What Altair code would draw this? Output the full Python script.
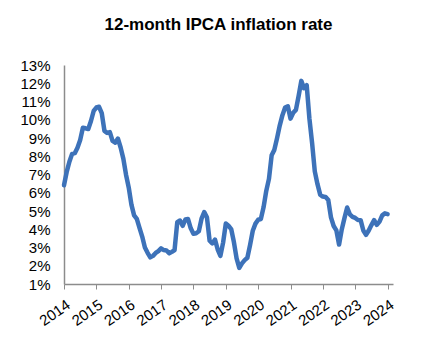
import altair as alt
import pandas as pd

# 12-month IPCA inflation rate (%), monthly, first point at the "2014" tick
values = [
    6.41,
    7.14, 7.70, 8.13, 8.17, 8.47, 8.89, 9.56, 9.53, 9.49, 9.93, 10.48, 10.67,
    10.71, 10.36, 9.39, 9.28, 9.32, 8.84, 8.74, 8.97, 8.48, 7.87, 6.99, 6.29,
    5.35, 4.76, 4.57, 4.08, 3.60, 3.00, 2.71, 2.46, 2.54, 2.70, 2.80, 2.95,
    2.86, 2.84, 2.68, 2.76, 2.86, 4.39, 4.48, 4.19, 4.53, 4.56, 4.05, 3.75,
    3.78, 3.89, 4.58, 4.94, 4.66, 3.37, 3.22, 3.43, 2.89, 2.54, 3.27, 4.31,
    4.19, 4.01, 3.30, 2.40, 1.88, 2.13, 2.31, 2.44, 3.14, 3.92, 4.31, 4.52,
    4.56, 5.20, 6.10, 6.76, 8.06, 8.35, 8.99, 9.68, 10.25, 10.67, 10.74, 10.06,
    10.38, 10.54, 11.30, 12.13, 11.73, 11.89, 10.07, 8.73, 7.17, 6.47, 5.90, 5.79,
    5.77, 5.60, 4.65, 4.18, 3.94, 3.16, 3.99, 4.61, 5.19, 4.82, 4.68, 4.62,
    4.51, 4.50, 3.93, 3.69, 3.93, 4.23, 4.50, 4.24, 4.42, 4.76, 4.87, 4.83,
]
year_labels = [2014, 2015, 2016, 2017, 2018, 2019, 2020, 2021, 2022, 2023, 2024]
y_ticks = list(range(1, 14))

df = pd.DataFrame({"t": list(range(len(values))), "v": values})

FONT = "Liberation Sans"

chart = (
    alt.Chart(df)
    .mark_line(color="#3d72b9", strokeWidth=4.5, strokeJoin="round", strokeCap="round")
    .encode(
        x=alt.X(
            "t:Q",
            scale=alt.Scale(domain=[0, 122], nice=False, zero=False),
            axis=alt.Axis(
                values=[i * 12 for i in range(len(year_labels))],
                labelExpr="2014 + datum.value / 12",
                labelAngle=-35,
                labelAlign="right",
                labelBaseline="top",
                labelOverlap=False,
                labelBound=False,
                labelFont=FONT,
                labelFontSize=15,
                labelColor="#000000",
                labelPadding=8,
                tickSize=5,
                tickColor="#8c8c8c",
                domainColor="#8c8c8c",
                domainWidth=1.5,
                grid=False,
                title=None,
            ),
        ),
        y=alt.Y(
            "v:Q",
            scale=alt.Scale(domain=[1, 13], nice=False, zero=False),
            axis=alt.Axis(
                values=y_ticks,
                labelExpr="datum.value + '%'",
                labelOverlap=False,
                labelFont=FONT,
                labelFontSize=15,
                labelColor="#000000",
                labelPadding=14,
                ticks=False,
                domainColor="#8c8c8c",
                domainWidth=1.5,
                grid=False,
                title=None,
            ),
        ),
    )
    .properties(
        width=329,
        height=219,
        padding={"left": 56, "top": 57, "right": 37, "bottom": 64},
        autosize=alt.AutoSizeParams(type="none"),
        title=alt.TitleParams(
            "12-month IPCA inflation rate",
            font=FONT,
            fontSize=17,
            fontWeight="bold",
            color="#000000",
            anchor="middle",
            offset=24,
            dx=-10,
        ),
    )
    .configure_view(stroke=None)
)

chart.save("out.html", embed_options={"renderer": "svg", "actions": False})
